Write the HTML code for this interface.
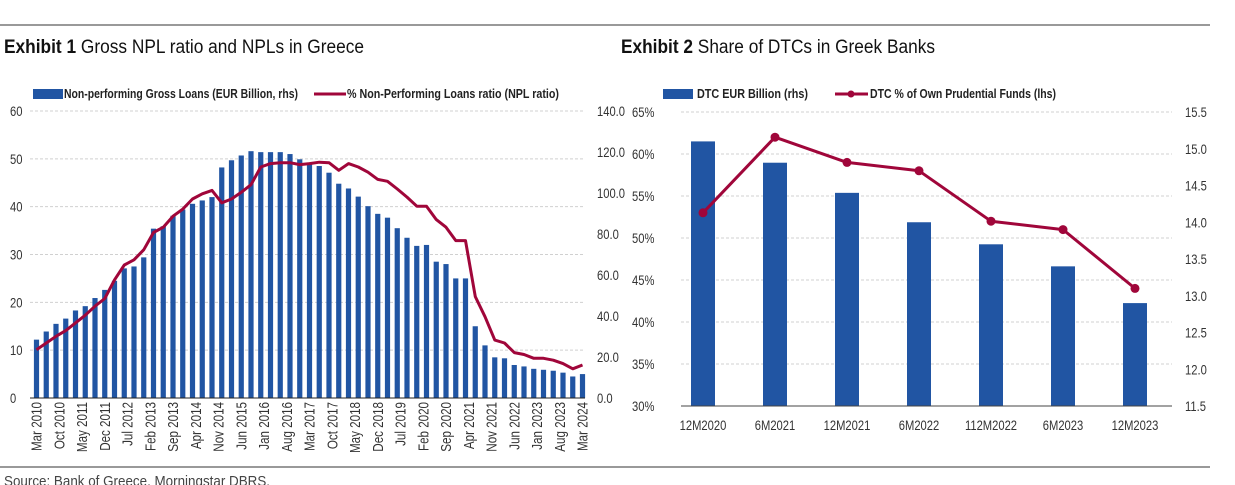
<!DOCTYPE html>
<html><head><meta charset="utf-8">
<style>
html,body{margin:0;padding:0;background:#fff;}
svg{display:block;font-family:"Liberation Sans Narrow","Liberation Sans",sans-serif;}
.t{fill:#333;}
</style></head>
<body>
<svg id="root" width="1235" height="485" viewBox="0 0 1235 485">
  <line x1="0" y1="25" x2="1210" y2="25" stroke="#333" stroke-width="1"/>
  <text x="4" y="53" font-size="19" fill="#111" textLength="360" lengthAdjust="spacingAndGlyphs"><tspan font-weight="bold">Exhibit 1</tspan>  Gross NPL ratio and NPLs in Greece</text>
  <text x="621" y="53" font-size="19" fill="#111" textLength="314" lengthAdjust="spacingAndGlyphs"><tspan font-weight="bold">Exhibit 2</tspan>  Share of DTCs in Greek Banks</text>

  <g>
    <rect x="33" y="89" width="30" height="10" fill="#2155a3"/>
    <text x="64" y="98" font-size="12.5" font-weight="bold" fill="#222" textLength="234" lengthAdjust="spacingAndGlyphs">Non-performing Gross Loans (EUR Billion, rhs)</text>
    <line x1="314" y1="94" x2="346" y2="94" stroke="#a0063a" stroke-width="3"/>
    <text x="347" y="98" font-size="12.5" font-weight="bold" fill="#222" textLength="212" lengthAdjust="spacingAndGlyphs">% Non-Performing Loans ratio (NPL ratio)</text>
  </g>
  <g>
    <rect x="663" y="89" width="30" height="10" fill="#2155a3"/>
    <text x="697" y="98" font-size="12.5" font-weight="bold" fill="#222" textLength="111" lengthAdjust="spacingAndGlyphs">DTC EUR Billion (rhs)</text>
    <line x1="835" y1="94" x2="868" y2="94" stroke="#a0063a" stroke-width="3"/>
    <circle cx="851" cy="94" r="3.5" fill="#a0063a"/>
    <text x="870" y="98" font-size="12.5" font-weight="bold" fill="#222" textLength="186" lengthAdjust="spacingAndGlyphs">DTC % of Own Prudential Funds (lhs)</text>
  </g>

  <g id="c1"></g>
  <g id="c2"></g>

  <line x1="0" y1="467" x2="1210" y2="467" stroke="#333" stroke-width="1"/>
  <text x="4" y="486" font-size="15" fill="#444" textLength="266" lengthAdjust="spacingAndGlyphs">Source: Bank of Greece, Morningstar DBRS.</text>
</svg>
<script>
// ---------- Exhibit 1 data ----------
const nplLoans = [12.2,13.9,15.5,16.6,18.3,19.2,20.9,22.6,24.5,27.1,27.5,29.4,35.4,35.9,38.1,39.4,40.6,41.3,42.0,48.2,49.7,50.7,51.6,51.4,51.4,51.4,51.0,49.9,49.2,
48.5,47.1,44.8,43.8,42.1,40.1,38.5,37.7,35.5,33.5,31.8,32.0,28.5,28.0,25.0,25.0,15.0,11.0,8.5,8.3,6.9,6.6,6.1,5.9,5.7,5.3,4.5,5.0];
const nplRatio = [10.1,11.5,12.9,14.1,15.7,17.3,19.2,20.8,24.7,27.8,28.9,31.0,34.6,35.7,38.0,39.5,41.6,42.7,43.4,40.8,41.6,43.0,44.6,48.3,49.0,49.2,49.2,48.8,49.0,
49.3,49.2,47.6,49.0,48.3,47.2,45.7,45.3,43.7,42.0,40.1,40.1,37.3,35.7,32.9,32.9,21.2,17.0,12.1,11.5,9.5,9.1,8.3,8.3,7.9,7.2,6.1,6.9];
const xLabels1 = ["Mar 2010","Oct 2010","May 2011","Dec 2011","Jul 2012","Feb 2013","Sep 2013","Apr 2014","Nov 2014","Jun 2015","Jan 2016","Aug 2016","Mar 2017","Oct 2017","May 2018","Dec 2018","Jul 2019","Feb 2020","Sep 2020","Apr 2021","Nov 2021","Jun 2022","Jan 2023","Aug 2023","Mar 2024"];
const leftTicks1 = [0,10,20,30,40,50,60];
const rightTicks1 = ["0.0","20.0","40.0","60.0","80.0","100.0","120.0","140.0"];

// ---------- Exhibit 2 data ----------
const dtcCats = ["12M2020","6M2021","12M2021","6M2022","112M2022","6M2023","12M2023"];
const dtcEur = [15.1,14.81,14.4,14.0,13.7,13.4,12.9];
const dtcPct = [53.0,62.0,59.0,58.0,52.0,51.0,44.0];
const leftTicks2 = [30,35,40,45,50,55,60,65];
const rightTicks2 = [11.5,12.0,12.5,13.0,13.5,14.0,14.5,15.0,15.5];

const NS = "http://www.w3.org/2000/svg";
function mk(parent, tag, attrs){ const e=document.createElementNS(NS,tag); for(const k in attrs) e.setAttribute(k,attrs[k]); parent.appendChild(e); return e; }

// ---------- Chart 1 ----------
(function(){
  const g = document.getElementById('c1');
  const x0=30, x1=585, yTop=111, yBot=398;
  const y = v => yBot - (v/60)*(yBot-yTop);
  const step = 9.75, first = 36.5;
  const xb = i => first + i*step;
  leftTicks1.forEach(t=>{
    if(t>0){ const l=mk(g,'line',{x1:x0,x2:x1,y1:y(t),y2:y(t),stroke:'#d0d0d0','stroke-dasharray':'3,2','stroke-width':1});
      
       }
    const tx=mk(g,'text',{x:10,y:y(t)+5,class:'t','font-size':14});
    tx.textContent=t;
    
    
  });
  rightTicks1.forEach((t,i)=>{
    const yy = yBot - i*(yBot-yTop)/7;
    const tx=mk(g,'text',{x:597,y:yy+5,class:'t','font-size':14});
    tx.textContent=t;
    
    
  });
  nplLoans.forEach((v,i)=>{
    const r=mk(g,'rect',{x:xb(i)-2.6,y:y(v),width:5.2,height:yBot-y(v),fill:'#2155a3'});
    
    
  });
  const ax=mk(g,'line',{x1:x0,x2:x1,y1:yBot,y2:yBot,stroke:'#222','stroke-width':1});
  
  
  const pts = nplRatio.map((v,i)=>xb(i).toFixed(1)+','+y(v).toFixed(1)).join(' ');
  const pl=mk(g,'polyline',{points:pts,fill:'none',stroke:'#a0063a','stroke-width':3,'stroke-linejoin':'round'});
  
  
  xLabels1.forEach((s,k)=>{
    const xx = first + k*(7/3)*step;
    const tx=mk(g,'text',{transform:`translate(${xx+5},402) rotate(-90)`,'text-anchor':'end',class:'t','font-size':14.5});
    tx.textContent=s;
    
    
  });
})();

// ---------- Chart 2 ----------
(function(){
  const g = document.getElementById('c2');
  const x0=681, x1=1172, yTop=112, yBot=406;
  const yl = v => yBot - (v-30)/35*(yBot-yTop);
  const yr = v => yBot - (v-11.5)/4*(yBot-yTop);
  const xc = i => x0 + 22 + i*72;
  leftTicks2.forEach(t=>{
    if(t>30){ const l=mk(g,'line',{x1:x0,x2:x1,y1:yl(t),y2:yl(t),stroke:'#d0d0d0','stroke-dasharray':'3,2','stroke-width':1});
      
       }
    const tx=mk(g,'text',{x:632,y:yl(t)+5,class:'t','font-size':14});
    tx.textContent=t+'%';
    
    
  });
  rightTicks2.forEach(t=>{
    const tx=mk(g,'text',{x:1185,y:yr(t)+5,class:'t','font-size':14});
    tx.textContent=t.toFixed(1);
    
    
  });
  dtcEur.forEach((v,i)=>{
    const r=mk(g,'rect',{x:xc(i)-12,y:yr(v),width:24,height:yBot-yr(v),fill:'#2155a3'});
    
    
  });
  const ax=mk(g,'line',{x1:x0,x2:x1,y1:yBot,y2:yBot,stroke:'#444','stroke-width':1});
  
  
  const pts = dtcPct.map((v,i)=>xc(i).toFixed(1)+','+yl(v).toFixed(1)).join(' ');
  const pl=mk(g,'polyline',{points:pts,fill:'none',stroke:'#a0063a','stroke-width':3,'stroke-linejoin':'round'});
  
  
  dtcPct.forEach((v,i)=>{
    const c=mk(g,'circle',{cx:xc(i),cy:yl(v),r:4.5,fill:'#a0063a'});
    
    
  });
  dtcCats.forEach((s,i)=>{
    const tx=mk(g,'text',{x:xc(i),y:430,'text-anchor':'middle',class:'t','font-size':14});
    tx.textContent=s;
    
    
  });
})();

// condense tick labels to mimic a narrow font
document.querySelectorAll('text.t').forEach(t=>{
  const w = t.getComputedTextLength();
  t.setAttribute('textLength', (w*0.8).toFixed(1));
  t.setAttribute('lengthAdjust','spacingAndGlyphs');
});
</script>
</body></html>
